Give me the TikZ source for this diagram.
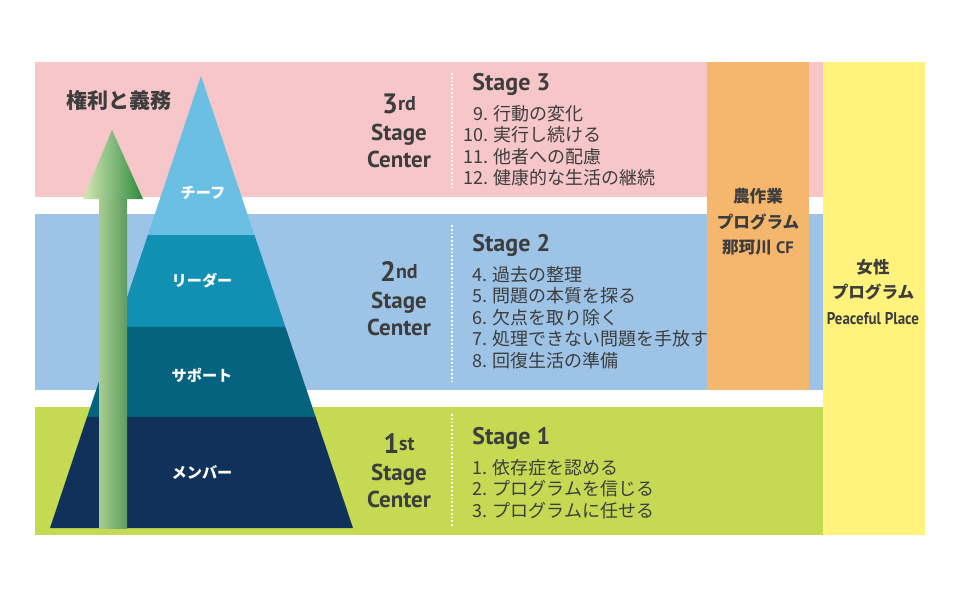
\documentclass[tikz,border=0pt]{standalone}
\usepackage{fontspec}
\setmainfont{PT Sans}
\newfontfamily\jpfont{Noto Sans CJK JP}
\usetikzlibrary{positioning,calc}
\definecolor{ink}{HTML}{3D3D3D}
\definecolor{rosy}{HTML}{F6C6C8}
\definecolor{sky}{HTML}{9DC3E6}
\definecolor{lime}{HTML}{C5D952}
\definecolor{peach}{HTML}{F5B76E}
\definecolor{lemon}{HTML}{FFF37E}
\definecolor{chiefc}{HTML}{6ABFE3}
\definecolor{leadc}{HTML}{1190B4}
\definecolor{suppc}{HTML}{06637F}
\definecolor{membc}{HTML}{10325A}
\definecolor{headlt}{HTML}{D4E8B6}
\definecolor{headdk}{HTML}{2E8A3E}
\definecolor{shaftlt}{HTML}{A9CD90}
\definecolor{shaftdk}{HTML}{5C9C60}
\tikzset{
  tierlbl/.style={text=white, font=\jpfont\bfseries\fontsize{7.6}{8}\selectfont},
  ctr/.style={text=ink, align=center, inner sep=0pt,
              font=\bfseries\fontsize{11.5}{13.5}\selectfont},
  stagehead/.style={text=ink, anchor=west, inner sep=0pt,
              font=\bfseries\fontsize{12}{13}\selectfont},
  steplist/.style={text=ink, align=left, inner sep=0pt,
              font=\jpfont\fontsize{9}{10.75}\selectfont},
  coltext/.style={text=ink, align=center, inner sep=0pt,
              font=\bfseries\fontsize{8.3}{12.75}\selectfont},
  divider/.style={white, densely dotted, line width=0.9pt},
}
\newcommand{\ordinal}[2]{{\fontsize{14}{14}\selectfont #1}{\fontsize{10}{10}\selectfont\raisebox{1.8pt}{#2}}}

\begin{document}
\begin{tikzpicture}[x=0.5pt, y=-0.5pt]
\useasboundingbox (0,0) rectangle (960,600);

% --- bands ---
\fill[rosy] (35,62) rectangle (823,197);
\fill[sky]  (35,214) rectangle (823,390);
\fill[lime] (35,407) rectangle (823,535);
\fill[peach] (707,62) rectangle (809,390);
\fill[lemon] (823,62) rectangle (925,535);

% --- pyramid ---
\coordinate (top) at (201,76);
\coordinate (bl) at (50,528);
\coordinate (br) at (353,528);
\coordinate (c1l) at ($(top)!0.352!(bl)$);
\coordinate (c1r) at ($(top)!0.352!(br)$);
\coordinate (c2l) at ($(top)!0.555!(bl)$);
\coordinate (c2r) at ($(top)!0.555!(br)$);
\coordinate (c3l) at ($(top)!0.754!(bl)$);
\coordinate (c3r) at ($(top)!0.754!(br)$);
\fill[chiefc] (top) -- (c1r) -- (c1l) -- cycle;
\fill[leadc] (c1l) -- (c1r) -- (c2r) -- (c2l) -- cycle;
\fill[suppc] (c2l) -- (c2r) -- (c3r) -- (c3l) -- cycle;
\fill[membc] (c3l) -- (c3r) -- (br) -- (bl) -- cycle;

% --- arrow ---
\shade[left color=shaftlt, right color=shaftdk] (99,199) rectangle (127,528);
\shade[left color=headlt, right color=headdk] (83,199) -- (112,130) -- (143,199) -- cycle;
\node[text=ink, font=\jpfont\bfseries\fontsize{10.5}{12}\selectfont] (rights) at (119,100) {権利と義務};

% --- tier labels ---
\node[tierlbl] (chief)   at (203,193) {チーフ};
\node[tierlbl] (leader)  at (202,281) {リーダー};
\node[tierlbl] (support) at (202,375) {サポート};
\node[tierlbl] (member)  at (202,472) {メンバー};

% --- stage centers ---
\node[ctr] (ctr3) at (399,131) {\ordinal{3}{rd}\\Stage\\Center};
\node[ctr] (ctr2) at (399,299) {\ordinal{2}{nd}\\Stage\\Center};
\node[ctr] (ctr1) at (399,471) {\ordinal{1}{st}\\Stage\\Center};

\draw[divider] (452,73) -- (452,188);
\draw[divider] (452,225) -- (452,382);
\draw[divider] (452,414) -- (452,528);

% --- stage steps ---
\node[stagehead] (st3) at (472,84) {Stage 3};
\node[steplist, below=4.5pt of st3.south west, anchor=north west, xshift=-4.5pt] (list3)
  {\hphantom{1}9. 行動の変化\\10. 実行し続ける\\11. 他者への配慮\\12. 健康的な生活の継続};

\node[stagehead] (st2) at (472,245) {Stage 2};
\node[steplist, below=4.5pt of st2.south west, anchor=north west] (list2)
  {4. 過去の整理\\5. 問題の本質を探る\\6. 欠点を取り除く\\7. 処理できない問題を手放す\\8. 回復生活の準備};

\node[stagehead] (st1) at (472,438) {Stage 1};
\node[steplist, below=4.5pt of st1.south west, anchor=north west] (list1)
  {1. 依存症を認める\\2. プログラムを信じる\\3. プログラムに任せる};

% --- programs ---
\node[coltext] (farm) at (758,222) {{\jpfont 農作業}\\{\jpfont プログラム}\\{\jpfont 那珂川} CF};
\node[coltext] (women) at (873,292) {{\jpfont 女性}\\{\jpfont プログラム}\\\scalebox{0.88}[1]{\fontsize{8.5}{9}\selectfont Peaceful Place}};

\end{tikzpicture}
\end{document}
